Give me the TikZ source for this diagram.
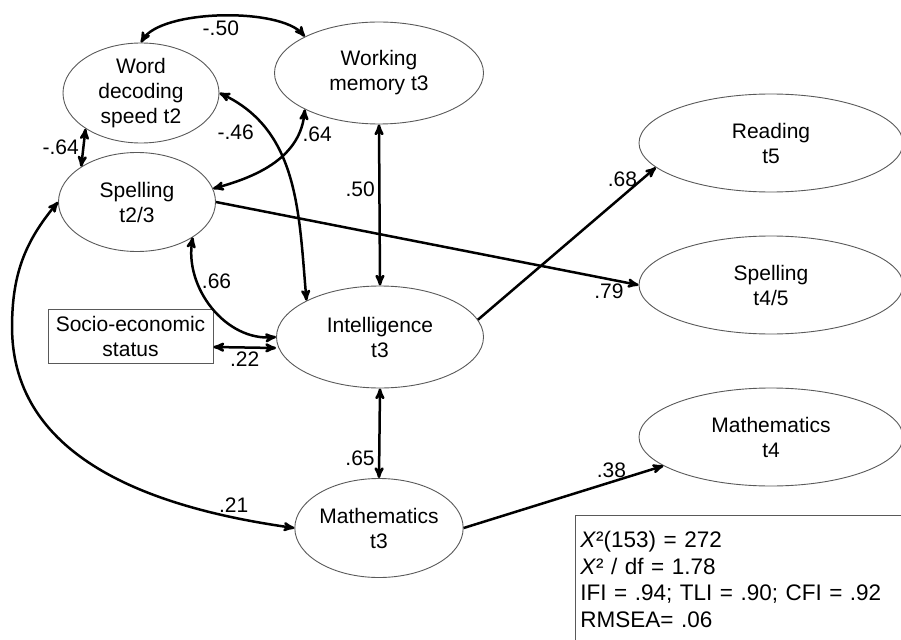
\documentclass[tikz,border=0pt]{standalone}
\usepackage{fontspec}
\setmainfont{Liberation Sans}
\usepackage{tikz}
\usetikzlibrary{arrows}
\usetikzlibrary{shapes.geometric}

\begin{document}
\begin{tikzpicture}[x=1pt,y=-1pt,>=stealth',
		font=\fontsize{21}{25}\selectfont,
		lat/.style={draw=black!65,line width=0.9pt,ellipse,align=center,inner sep=0pt},
		reg/.style={line width=2.5pt,->},
		cov/.style={line width=2.5pt,<->},
		gofbox/.style={draw=black!65,line width=0.9pt,align=left,text width=330pt,minimum height=128pt,inner xsep=5pt,font=\fontsize{22.5}{26.5}\selectfont}]
			\useasboundingbox(0,0)rectangle(901,639);
			\clip(0,0)rectangle(901,639);
			\node[lat,minimum width=156pt,minimum height=100pt](WD)at(141,93){Word\\decoding\\speed t2};
			\node[lat,minimum width=209pt,minimum height=102pt](WM)at(379,73){Working\\memory t3};
			\node[lat,minimum width=157pt,minimum height=99pt](SP)at(137,202){Spelling\\t2/3};
			\node[draw=black!65,line width=0.9pt,align=center,minimum width=165pt,minimum height=54pt,inner sep=0pt](SES)at(130.5,336){Socio-economic\\status};
			\node[lat,minimum width=207pt,minimum height=102pt](INT)at(380,337){Intelligence\\t3};
			\node[lat,minimum width=156pt,minimum height=99pt](MT3)at(379,528){Mathematics\\t3};
			\node[lat,minimum width=264pt,minimum height=98pt](RD)at(771,143){Reading\\t5};
			\node[lat,minimum width=264pt,minimum height=98pt](ST45)at(771,285){Spelling\\t4/5};
			\node[lat,minimum width=264pt,minimum height=98pt](MT4)at(771,437){Mathematics\\t4};
			\node[gofbox,anchor=north west](GOF)at(575,515){\textit{X}²(153) = 272\\\textit{X}² / df = 1.78\\IFI = .94; TLI = .90; CFI = .92\\RMSEA= .06};
			% correlations
			\draw[cov](WD.north)to[out=60,in=130,looseness=0.6]node[below]{-.50}(WM.north west);
			\draw[cov](WD.south west)--node[left]{-.64}(SP.north west);
			\draw[cov](WD.east)to[out=-25,in=95]node[pos=0.2,below left]{-.46}(INT.north west);
			\draw[cov](WM.south west)to[out=-95,in=15]node[pos=0.2,right]{.64}(SP.10);
			\draw[cov](WM.south)--node[pos=0.4,left]{.50}(INT.north);
			\draw[cov](SP.south east)to[out=-100,in=185]node[pos=0.3,right]{.66}(INT.west);
			\draw[cov]([yshift=-11pt]SES.east)--node[below]{.22}([yshift=-11pt]INT.west);
			\draw[cov](INT.south)--node[pos=0.78,left]{.65}(MT3.north);
			\draw[cov](SP.west)to[out=230,in=90]++(-46,125)to[out=-90,in=172]node[pos=0.85,above]{.21}(MT3.west);
			% paths
			\draw[reg](SP.east)--node[pos=0.93,below]{.79}(ST45.west);
			\draw[reg](INT.10)--node[pos=0.92,left]{.68}(RD.192);
			\draw[reg](MT3.east)--node[pos=0.74,above]{.38}(MT4.195);
		\end{tikzpicture}
\end{document}
